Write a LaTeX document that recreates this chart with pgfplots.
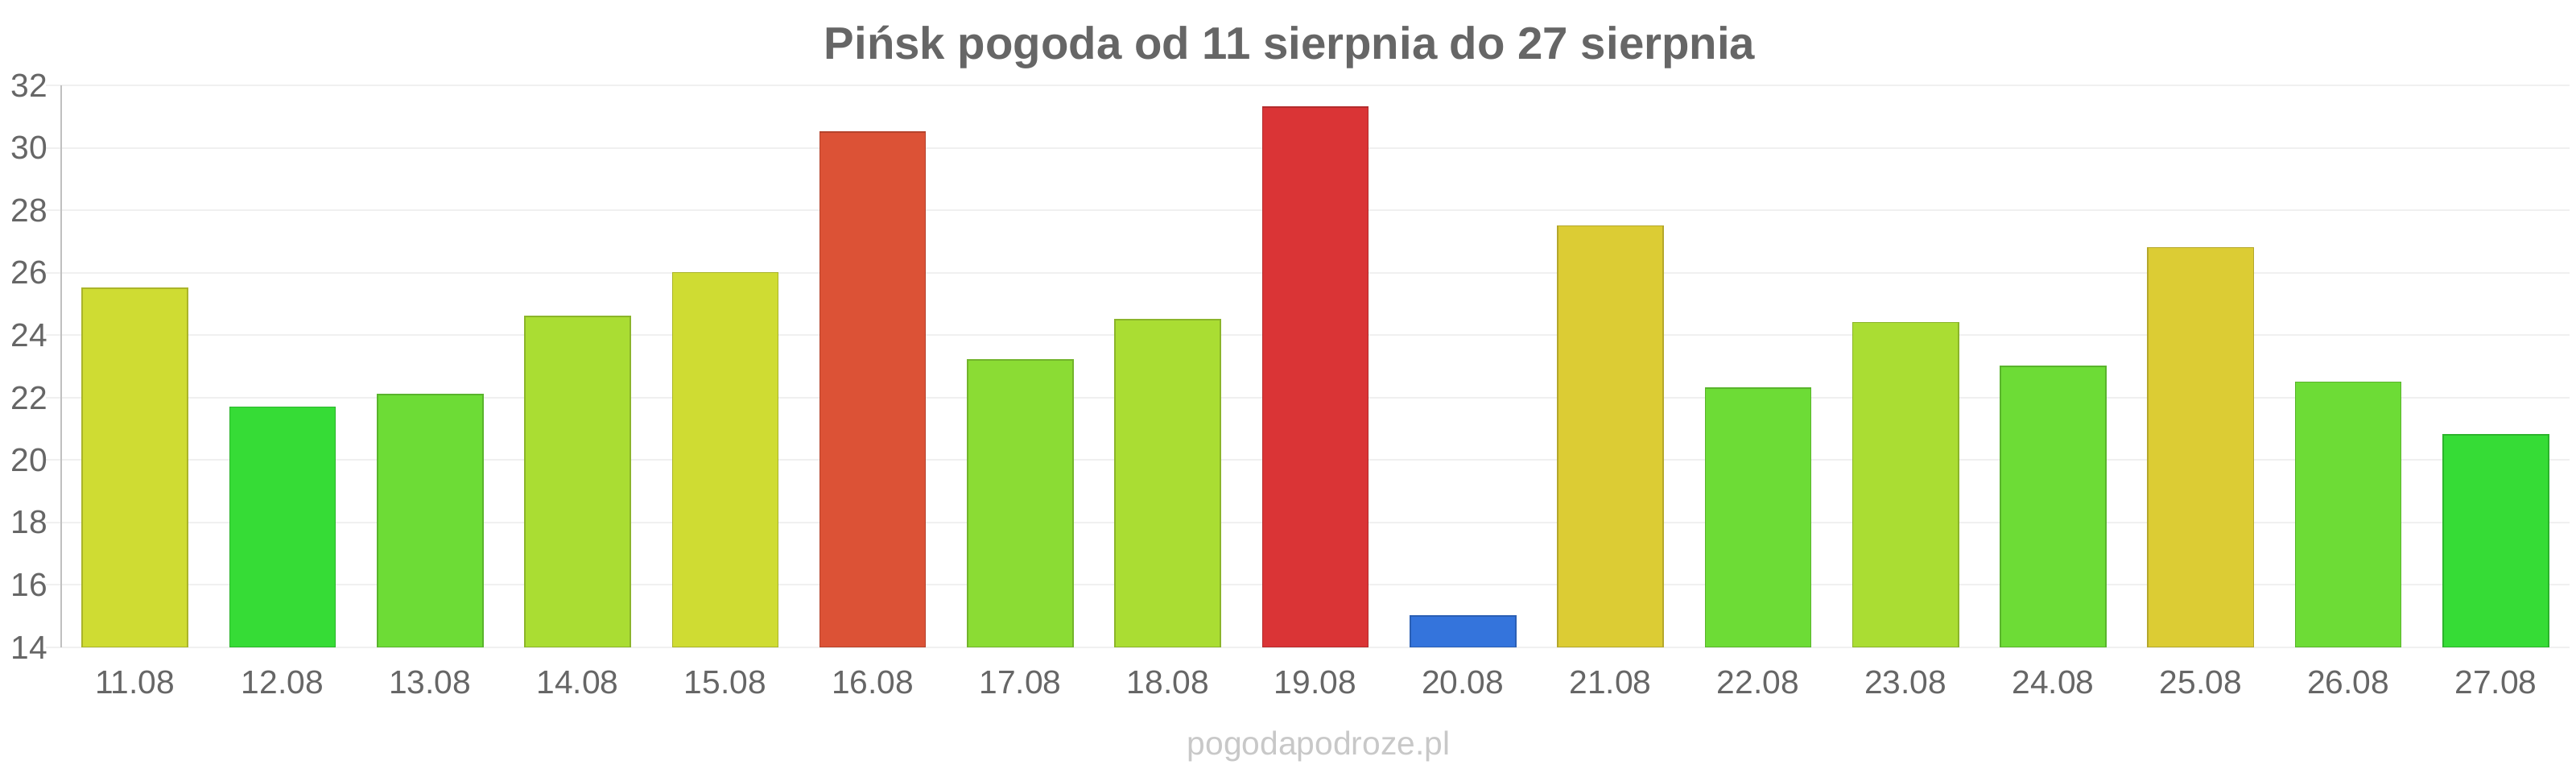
\documentclass[border=0pt]{standalone}
\usepackage{fontspec}
\setmainfont{Liberation Sans}
\usepackage{pgfplots}
\pgfplotsset{compat=1.18}
\definecolor{cYG}{HTML}{CFDC33}
\definecolor{cG}{HTML}{36DC36}
\definecolor{cLG}{HTML}{6DDC36}
\definecolor{cL}{HTML}{AADD33}
\definecolor{cM}{HTML}{8BDC34}
\definecolor{cO}{HTML}{DC5236}
\definecolor{cR}{HTML}{DA3436}
\definecolor{cB}{HTML}{3474DC}
\definecolor{cY}{HTML}{DCCC34}
\definecolor{gridgray}{HTML}{F0F0F0}
\definecolor{axisgray}{HTML}{C0C0C0}
\definecolor{labelgray}{HTML}{666666}
\definecolor{wmgray}{HTML}{C8C8C8}
\pgfplotsset{mybar/.style={ybar, bar width=0.715, bar shift=0pt, fill=#1, draw=#1!82!black, line width=0.4pt}}
\begin{document}
\begin{tikzpicture}
\useasboundingbox (0,0) rectangle (800pt,240pt);
\begin{axis}[at={(19pt,39pt)}, anchor=south west, scale only axis,
  width=779pt, height=174.5pt,
  xmin=-0.5, xmax=16.5, ymin=14, ymax=32,
  ytick={14,16,...,32},
  xtick={0,...,16},
  xticklabels={11.08,12.08,13.08,14.08,15.08,16.08,17.08,18.08,19.08,20.08,21.08,22.08,23.08,24.08,25.08,26.08,27.08},
  axis y line*=left, axis x line*=bottom,
  x axis line style={draw=none},
  y axis line style={draw=axisgray, line width=0.5pt},
  ymajorgrids, grid style={draw=gridgray, line width=0.5pt},
  tick align=outside, major tick length=4.75pt,
  ytick style={draw=gridgray, line width=0.5pt},
  xtick style={draw=none},
  ticklabel style={font=\fontsize{10.2}{12}\selectfont, text=labelgray},
  yticklabel style={xshift=4pt},
  xticklabel style={yshift=1pt},
  /pgf/number format/assume math mode=true,
  clip=true]
\addplot[mybar=cYG] coordinates {(0,25.5)};
\addplot[mybar=cG]  coordinates {(1,21.7)};
\addplot[mybar=cLG] coordinates {(2,22.1)};
\addplot[mybar=cL]  coordinates {(3,24.6)};
\addplot[mybar=cYG] coordinates {(4,26.0)};
\addplot[mybar=cO]  coordinates {(5,30.5)};
\addplot[mybar=cM]  coordinates {(6,23.2)};
\addplot[mybar=cL]  coordinates {(7,24.5)};
\addplot[mybar=cR]  coordinates {(8,31.3)};
\addplot[mybar=cB]  coordinates {(9,15.0)};
\addplot[mybar=cY]  coordinates {(10,27.5)};
\addplot[mybar=cLG] coordinates {(11,22.3)};
\addplot[mybar=cL]  coordinates {(12,24.4)};
\addplot[mybar=cLG] coordinates {(13,23.0)};
\addplot[mybar=cY]  coordinates {(14,26.8)};
\addplot[mybar=cLG] coordinates {(15,22.5)};
\addplot[mybar=cG]  coordinates {(16,20.8)};
\draw[axisgray, line width=0.5pt] (rel axis cs:0,0) -- ++(0,-4.75pt);
\end{axis}
\node[anchor=base, text=labelgray, font=\fontsize{14.1}{16}\selectfont\bfseries] at (400.5pt,221.5pt) {Pińsk pogoda od 11 sierpnia do 27 sierpnia};
\node[anchor=base, text=wmgray, font=\fontsize{10.2}{12}\selectfont] at (409.5pt,5.5pt) {pogodapodroze.pl};
\end{tikzpicture}
\end{document}
